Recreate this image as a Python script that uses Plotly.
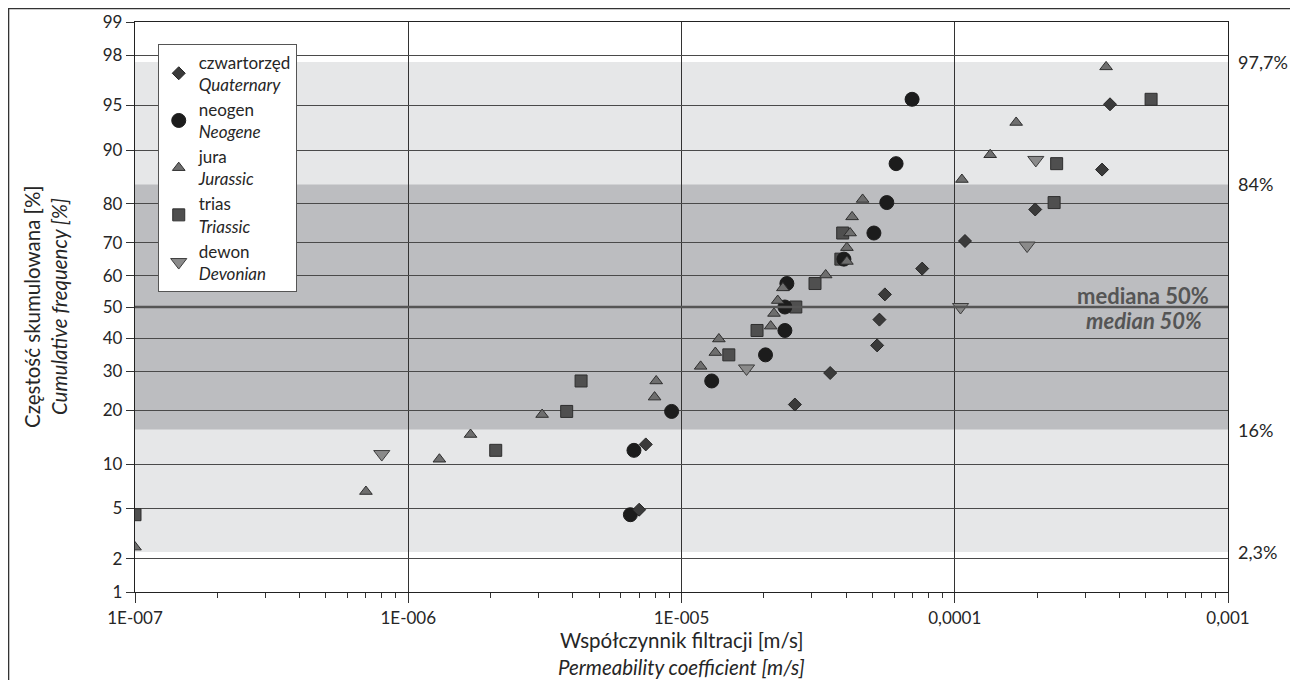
import plotly.graph_objects as go
from statistics import NormalDist

ND = NormalDist()

# ---------------- data ----------------
quat_k = [7.0e-6, 7.4e-6, 2.6e-5, 3.5e-5, 5.2e-5, 5.3e-5, 5.55e-5, 7.6e-5, 1.09e-4, 1.97e-4, 3.46e-4, 3.7e-4]
quat_p = [4.9, 13.1, 21.3, 29.5, 37.7, 45.9, 54.1, 62.3, 70.5, 78.7, 86.9, 95.1]

neog_k = [6.5e-6, 6.7e-6, 9.2e-6, 1.29e-5, 2.03e-5, 2.39e-5, 2.39e-5, 2.43e-5, 3.93e-5, 5.06e-5, 5.64e-5, 6.1e-5, 6.98e-5]
neog_p = [4.5, 12.1, 19.7, 27.3, 34.8, 42.4, 50.0, 57.6, 65.2, 72.7, 80.3, 87.9, 95.5]

jura_k = [1.0e-7, 7.0e-7, 1.30e-6, 1.69e-6, 3.09e-6, 7.97e-6, 8.08e-6, 1.175e-5, 1.33e-5, 1.37e-5,
          2.12e-5, 2.18e-5, 2.25e-5, 2.35e-5, 3.37e-5, 4.03e-5, 4.03e-5, 4.14e-5, 4.21e-5, 4.60e-5,
          1.062e-4, 1.348e-4, 1.678e-4, 3.58e-4]
jura_p = [2.5, 6.6, 10.7, 14.9, 19.0, 23.1, 27.3, 31.4, 35.5, 39.7, 43.8, 47.9, 52.1, 56.2, 60.3,
          64.5, 68.6, 72.7, 76.9, 81.0, 85.1, 89.3, 93.4, 97.5]

trias_k = [1.0e-7, 2.09e-6, 3.80e-6, 4.29e-6, 1.49e-5, 1.89e-5, 2.62e-5, 3.08e-5, 3.83e-5, 3.89e-5, 2.31e-4, 2.36e-4, 5.23e-4]
trias_p = [4.5, 12.1, 19.7, 27.3, 34.8, 42.4, 50.0, 57.6, 65.2, 72.7, 80.3, 87.9, 95.5]

dew_k = [8.0e-7, 1.73e-5, 1.05e-4, 1.84e-4, 1.98e-4]
dew_p = [11.5, 30.8, 50.0, 69.2, 88.5]

y_ticks = [1, 2, 5, 10, 20, 30, 40, 50, 60, 70, 80, 90, 95, 98, 99]
x_ticks = [1e-7, 1e-6, 1e-5, 1e-4, 1e-3]
x_tick_text = ["1E-007", "1E-006", "1E-005", "0,0001", "0,001"]
band_labels = ["97,7%", "84%", "16%", "2,3%"]
band_sigma = [2, 1, -1, -2]

FONT = "Lato"
TXT = "#262626"


def probit(pcts):
    return [ND.inv_cdf(p / 100.0) for p in pcts]


fig = go.Figure()

series = [
    # name, x, p, symbol, size, fill, line, rank
    ("trias<br><i>Triassic</i>", trias_k, trias_p, "square", 12, "#4f4f4f", "#2e2e2e", 4),
    ("neogen<br><i>Neogene</i>", neog_k, neog_p, "circle", 14, "#1c1c1c", "#1c1c1c", 2),
    ("czwartorzęd<br><i>Quaternary</i>", quat_k, quat_p, "diamond", 10, "#3a3a3a", "#262626", 1),
    ("jura<br><i>Jurassic</i>", jura_k, jura_p, "triangle-up", 11, "#6e6e6e", "#2e2e2e", 3),
    ("dewon<br><i>Devonian</i>", dew_k, dew_p, "triangle-down", 14, "#8a8a8a", "#3c3c3c", 5),
]
for name, xs, ps, sym, size, fill, line, rank in series:
    fig.add_trace(go.Scatter(
        x=xs, y=probit(ps), mode="markers", name=name, legendrank=rank,
        marker=dict(symbol=sym, size=size, color=fill, line=dict(color=line, width=1)),
    ))

zt = probit(y_ticks)

shapes = [
    dict(type="rect", xref="paper", yref="y", x0=0, x1=1, y0=-2, y1=2,
         fillcolor="#e6e7e8", line=dict(width=0), layer="below"),
    dict(type="rect", xref="paper", yref="y", x0=0, x1=1, y0=-1, y1=1,
         fillcolor="#bcbdc0", line=dict(width=0), layer="below"),
    dict(type="line", xref="paper", yref="y", x0=0, x1=1, y0=0, y1=0,
         line=dict(color="#555555", width=2.5), layer="above"),
    # outer frame
    dict(type="rect", xref="paper", yref="paper", x0=-0.1156, x1=1.0613, y0=-0.25, y1=1.0235,
         line=dict(color="#333333", width=1.3), fillcolor="rgba(0,0,0,0)"),
]

annotations = []
for lab, s in zip(band_labels, band_sigma):
    annotations.append(dict(text=lab, xref="paper", yref="y", x=1.0073, y=s,
                            xanchor="left", yanchor="middle", showarrow=False,
                            font=dict(family=FONT, size=18, color=TXT)))
annotations += [
    dict(text="<b>mediana 50%</b>", xref="paper", yref="y", x=0.9842, y=0.0955,
         xanchor="right", yanchor="middle", showarrow=False,
         font=dict(family=FONT, size=22, color="#555555")),
    dict(text="<b><i>median 50%</i></b>", xref="paper", yref="y", x=0.978, y=-0.114,
         xanchor="right", yanchor="middle", showarrow=False,
         font=dict(family=FONT, size=22, color="#555555")),
    dict(text="Współczynnik filtracji [m/s]", xref="paper", yref="paper", x=0.5, y=-0.0842,
         xanchor="center", yanchor="middle", showarrow=False, borderpad=0,
         font=dict(family=FONT, size=20.5, color=TXT)),
    dict(text="<i>Permeability coefficient [m/s]</i>", xref="paper", yref="paper", x=0.5, y=-0.1540,
         xanchor="center", yanchor="bottom", showarrow=False, borderpad=0,
         font=dict(family=FONT, size=20.5, color=TXT)),
    dict(text="Częstość skumulowana [%]", xref="paper", yref="paper", x=-0.0942, y=0.5,
         xanchor="center", yanchor="middle", textangle=-90, showarrow=False, borderpad=0,
         font=dict(family=FONT, size=20.5, color=TXT)),
    dict(text="<i>Cumulative frequency [%]</i>", xref="paper", yref="paper", x=-0.0695, y=0.5,
         xanchor="center", yanchor="middle", textangle=-90, showarrow=False, borderpad=0,
         font=dict(family=FONT, size=20.5, color=TXT)),
]

minor_vals = [m * 10.0 ** e for e in range(-7, -3) for m in range(2, 10)]

# page has an 8px body margin: figure is placed at (8, 8)
fig.update_layout(
    width=1290, height=672,
    margin=dict(l=127, r=70, t=14, b=88, autoexpand=False),
    paper_bgcolor="white", plot_bgcolor="white",
    font=dict(family=FONT, size=17, color=TXT),
    showlegend=True,
    legend=dict(x=0.0208, y=0.962, xanchor="left", yanchor="top",
                bgcolor="white", bordercolor="#555555", borderwidth=1,
                font=dict(family=FONT, size=17, color=TXT), valign="middle",
                traceorder="normal"),
    shapes=shapes, annotations=annotations,
)
fig.update_xaxes(
    type="log", range=[-7, -3], tickmode="array", tickvals=x_ticks, ticktext=x_tick_text,
    showgrid=True, gridcolor="#333333", gridwidth=1, automargin=False,
    ticks="outside", ticklen=10, tickcolor="#333333",
    showline=True, linecolor="#222222", linewidth=1.3, mirror=True,
    tickfont=dict(family=FONT, size=17, color=TXT), zeroline=False,
    minor=dict(tickmode="array", tickvals=minor_vals, ticks="outside", ticklen=5,
               tickcolor="#333333", showgrid=False),
)
fig.update_yaxes(
    range=[zt[0], zt[-1]], tickmode="array", tickvals=zt, ticktext=[str(v) for v in y_ticks],
    showgrid=True, gridcolor="#4a4a4a", gridwidth=1.3, automargin=False,
    ticks="outside", ticklen=8, tickcolor="#333333",
    showline=True, linecolor="#222222", linewidth=1.3, mirror=True,
    tickfont=dict(family=FONT, size=17, color=TXT), zeroline=False,
)

fig.write_html("out.html")
